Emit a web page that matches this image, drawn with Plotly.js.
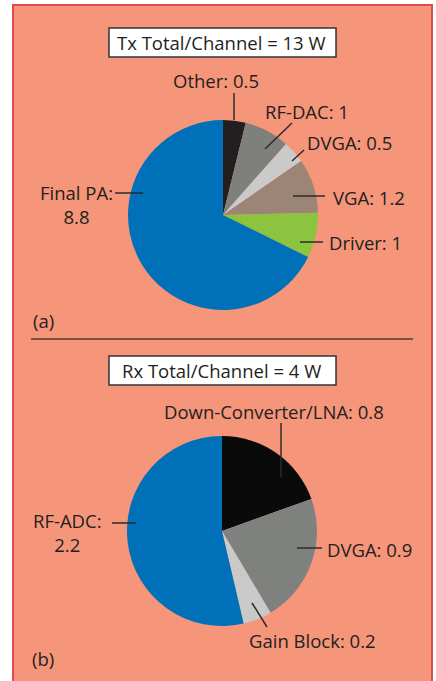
<!DOCTYPE html>
<html>
<head>
<meta charset="utf-8">
<script src="https://cdn.plot.ly/plotly-3.0.1.min.js"></script>
<style>html,body{margin:0;padding:0;background:#fff;}#chart{width:436px;height:681px;}</style>
</head>
<body>
<div id="chart"></div>
<script>
// ---- data ----
const txLabels = ["Other", "RF-DAC", "DVGA", "VGA", "Driver", "Final PA"];
const txValues = [0.5, 1, 0.5, 1.2, 1, 8.8];
const txColors = ["#231f20", "#7f807c", "#cacaca", "#9c8576", "#8cc43f", "#0070b8"];
const txTitle = "Tx Total/Channel = 13 W";

const rxLabels = ["Down-Converter/LNA", "DVGA", "Gain Block", "RF-ADC"];
const rxValues = [0.8, 0.9, 0.2, 2.2];
const rxColors = ["#0a0a0a", "#7f817e", "#c9c9c9", "#0070b8"];
const rxTitle = "Rx Total/Channel = 4 W";

// ---- layout helpers ----
const W = 436, H = 681;
const px = x => x / W;
const py = y => 1 - y / H;
const FONT = "'Open Sans', Lato, sans-serif";
const FS = 18.5;
const TXT = "#231f20";

function domain(cx, cy, r) {
  return {x: [px(cx - r), px(cx + r)], y: [py(cy + r), py(cy - r)]};
}

const traces = [
  {type: "pie", labels: txLabels, values: txValues, sort: false, direction: "clockwise", rotation: 0,
   marker: {colors: txColors, line: {width: 0}}, textinfo: "none", hoverinfo: "label+value",
   domain: domain(223, 215, 95), showlegend: false},
  {type: "pie", labels: rxLabels, values: rxValues, sort: false, direction: "clockwise", rotation: 0,
   marker: {colors: rxColors, line: {width: 0}}, textinfo: "none", hoverinfo: "label+value",
   domain: domain(222, 531, 95), showlegend: false}
];

const lbl = (labels, values, i, br) => labels[i] + ":" + (br ? "<br>" : " ") + values[i];

const ann = [];
function addText(text, x, y, xanchor) {
  ann.push({text: text, x: px(x), y: py(y), xref: "paper", yref: "paper", showarrow: false,
    xanchor: xanchor || "center", yanchor: "middle", font: {family: FONT, size: FS, color: TXT}});
}
// Tx labels
addText(txTitle, 222, 42);
addText(lbl(txLabels, txValues, 0), 216, 80);
addText(lbl(txLabels, txValues, 1), 307, 112);
addText(lbl(txLabels, txValues, 2), 349, 142);
addText(lbl(txLabels, txValues, 3), 369, 197);
addText(lbl(txLabels, txValues, 4), 365, 242);
addText(lbl(txLabels, txValues, 5, true), 76, 204);
addText("(a)", 31, 320, "left");
// Rx labels
addText(rxTitle, 222, 370);
addText(lbl(rxLabels, rxValues, 0), 274, 411);
addText(lbl(rxLabels, rxValues, 1), 369, 549);
addText(lbl(rxLabels, rxValues, 2), 312, 640);
addText(lbl(rxLabels, rxValues, 3, true), 67, 532);
addText("(b)", 30, 658, "left");

const shapes = [];
function line(x0, y0, x1, y1, lw, color) {
  shapes.push({type: "line", xref: "paper", yref: "paper", x0: px(x0), x1: px(x1), y0: py(y0), y1: py(y1),
    line: {color: color || "#2b2b2b", width: lw || 1.5}, layer: "above"});
}
function box(x0, y0, x1, y1, fill, lineColor, lw) {
  shapes.push({type: "rect", xref: "paper", yref: "paper", x0: px(x0), x1: px(x1), y0: py(y1), y1: py(y0),
    fillcolor: fill, line: {color: lineColor, width: lw}, layer: "below"});
}
// background panel
box(13, 5, 432, 690, "#f5967a", "#e24a4c", 2);
// title boxes
box(109, 28, 336, 57, "#ffffff", "#333333", 1.5);
box(109, 356, 336, 385, "#ffffff", "#333333", 1.5);
// separator
line(31, 339, 413, 339, 1.5, "#4a3a36");
// Tx leader lines
line(234, 93, 234, 120);
line(292, 123, 265, 149);
line(304, 150, 292, 161);
line(325, 196, 293, 196);
line(323, 242, 300, 242);
line(115, 193, 143, 193);
// Rx leader lines
line(281, 423, 281, 477);
line(322, 548, 297, 548);
line(267, 627, 252, 603);
line(112, 523, 136, 523);

const layout = {
  width: W, height: H, margin: {l: 0, r: 0, t: 0, b: 0},
  paper_bgcolor: "#ffffff", plot_bgcolor: "rgba(0,0,0,0)",
  showlegend: false, annotations: ann, shapes: shapes
};
Plotly.newPlot("chart", traces, layout, {displayModeBar: false, staticPlot: true});
</script>
</body>
</html>
